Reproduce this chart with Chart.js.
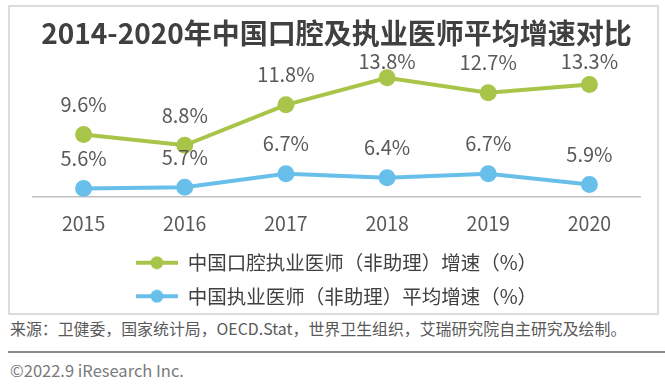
<!DOCTYPE html>
<html lang="zh">
<head>
<meta charset="UTF-8">
<title>2014-2020年中国口腔及执业医师平均增速对比</title>
<style>
  body { margin: 0; background: #fff; width: 665px; height: 387px; overflow: hidden; position: relative;
         font-family: "Noto Sans CJK SC", "Noto Sans", sans-serif; }
  #box { position: absolute; left: 8px; top: 5px; width: 647px; height: 306px; border: 2px solid #dcdcdc; }
  #wrap { position: absolute; left: 10px; top: 7px; width: 647px; height: 309px; }
  #source { position: absolute; left: 10px; top: 317px; font-size: 15.9px; color: #595959; white-space: nowrap; }
  #rule { position: absolute; left: 8px; top: 351px; width: 657px; height: 2px; background: #8c8c8c; }
  #copy { position: absolute; left: 10px; top: 358px; font-size: 16.5px; color: #7a7a7a; white-space: nowrap; }
</style>
</head>
<body>
<div id="box"></div>
<div id="wrap"><canvas id="chart"></canvas></div>
<div id="source">来源：卫健委，国家统计局，OECD.Stat，世界卫生组织，艾瑞研究院自主研究及绘制。</div>
<div id="rule"></div>
<div id="copy">©2022.9 iResearch Inc.</div>

<script src="https://cdn.jsdelivr.net/npm/chart.js"></script>
<script>
// data
const years = ['2015', '2016', '2017', '2018', '2019', '2020'];
const dentalGrowth = [9.6, 8.8, 11.8, 13.8, 12.7, 13.3];
const doctorGrowth = [5.6, 5.7, 6.7, 6.4, 6.7, 5.9];
const seriesNames = ['中国口腔执业医师（非助理）增速（%）', '中国执业医师（非助理）平均增速（%）'];

const GREEN = '#a8c54a';
const BLUE = '#67bfea';
const FONT = '"Noto Sans CJK SC", "Noto Sans", sans-serif';

// legend marker: short line with a dot
function marker(color) {
  const c = document.createElement('canvas');
  c.width = 42; c.height = 14;
  const g = c.getContext('2d');
  g.strokeStyle = color; g.lineWidth = 4;
  g.beginPath(); g.moveTo(0, 7); g.lineTo(42, 7); g.stroke();
  g.fillStyle = color;
  g.beginPath(); g.arc(21, 7, 6.5, 0, Math.PI * 2); g.fill();
  return c;
}

// value labels above points (kept inside the plot area, like the original)
const valueLabels = {
  id: 'valueLabels',
  afterDatasetsDraw(chart) {
    const ctx = chart.ctx;
    const top = chart.chartArea.top;
    ctx.save();
    ctx.font = '20px ' + FONT;
    ctx.fillStyle = '#595959';
    ctx.textAlign = 'center';
    ctx.textBaseline = 'middle';
    chart.data.datasets.forEach((ds, i) => {
      chart.getDatasetMeta(i).data.forEach((pt, j) => {
        ctx.fillText(ds.data[j].toFixed(1) + '%', pt.x, Math.max(pt.y - 30, top));
      });
    });
    ctx.restore();
  }
};

const ctx = document.getElementById('chart').getContext('2d');
new Chart(ctx, {
  type: 'line',
  data: {
    labels: years,
    datasets: [{
      label: seriesNames[0],
      data: dentalGrowth,
      borderColor: GREEN,
      backgroundColor: GREEN,
      borderWidth: 4,
      pointRadius: 6.5,
      pointHoverRadius: 6.5,
      pointStyle: 'circle',
      fill: false
    }, {
      label: seriesNames[1],
      data: doctorGrowth,
      borderColor: BLUE,
      backgroundColor: BLUE,
      borderWidth: 4,
      pointRadius: 6.5,
      pointHoverRadius: 6.5,
      pointStyle: 'circle',
      fill: false
    }]
  },
  options: {
    responsive: true,
    maintainAspectRatio: false,
    animation: false,
    layout: { padding: { left: 23, right: 17, top: 0, bottom: 0 } },
    plugins: {
      title: {
        display: true,
        text: '2014-2020年中国口腔及执业医师平均增速对比',
        color: '#404040',
        font: { family: FONT, size: 28, weight: 'bold' },
        padding: { top: 10, bottom: 11 }
      },
      legend: {
        position: 'bottom',
        labels: {
          color: '#404040',
          font: { family: FONT, size: 19.5 },
          usePointStyle: true,
          pointStyleWidth: 42,
          padding: 14,
          generateLabels(chart) {
            return chart.data.datasets.map((ds, i) => ({
              text: ds.label,
              fontColor: '#404040',
              pointStyle: marker(ds.borderColor),
              datasetIndex: i,
              lineWidth: 0,
              hidden: false
            }));
          }
        }
      },
      tooltip: { enabled: false }
    },
    scales: {
      x: {
        offset: true,
        grid: { display: false, drawTicks: false },
        border: { display: true, color: '#bfbfbf', width: 1.5 },
        ticks: { color: '#595959', font: { family: FONT, size: 19.5 }, padding: 15 },
        afterFit(scale) { scale.height -= 11; }
      },
      y: {
        display: false,
        min: 5,
        max: 15
      }
    }
  },
  plugins: [valueLabels]
});
</script>
</body>
</html>
